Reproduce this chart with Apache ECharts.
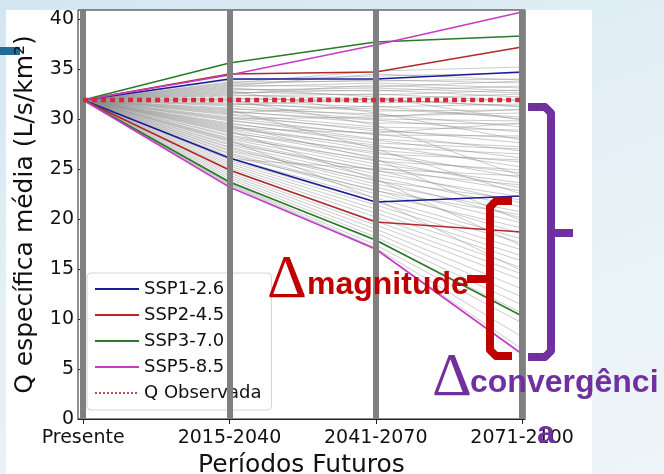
<!DOCTYPE html>
<html>
<head>
<meta charset="utf-8">
<script src="https://cdn.jsdelivr.net/npm/echarts@6/dist/echarts.min.js"></script>
<style>
  html, body { margin: 0; padding: 0; }
  body { width: 664px; height: 474px; overflow: hidden; position: relative;
    background: linear-gradient(160deg, #d3e6f0 0%, #e4f0f6 45%, #eef5f9 100%); }
  .paper { position: absolute; left: 6px; top: 10px; width: 586px; height: 464px; background: #fff; }
  .tab { position: absolute; left: 0; top: 47px; width: 20px; height: 8px; background: #1f6d99; }
  #chart { position: absolute; left: 0; top: 0; width: 664px; height: 474px; }
</style>
</head>
<body>
<div class="paper"></div>
<div class="tab"></div>
<div id="chart"></div>
<script>
const periods = ['Presente', '2015-2040', '2041-2070', '2071-2100'];
const yTicks = [0, 5, 10, 15, 20, 25, 30, 35, 40];
const qObservada = 31.9;

// envelopes per scenario (upper / lower), one value per period
const ssp126Up  = [31.9, 34.0, 34.0, 34.7];
const ssp126Low = [31.9, 26.1, 21.7, 22.3];
const ssp245Up  = [31.9, 34.5, 34.7, 37.2];
const ssp245Low = [31.9, 24.9, 19.7, 18.7];
const ssp370Up  = [31.9, 35.6, 37.7, 38.3];
const ssp370Low = [31.9, 23.7, 17.9, 10.3];
const ssp585Up  = [31.9, 34.4, 37.4, 40.7];
const ssp585Low = [31.9, 23.2, 17.0, 6.5];

// ensemble members (gray), values at 2015-2040 / 2041-2070 / 2071-2100
const gray2015 = [33.9, 33.7, 33.5, 33.4, 33.2, 33.0, 32.9, 32.7, 32.6, 32.4, 32.3, 32.1, 32.0, 31.8,
  31.6, 31.5, 31.3, 31.1, 31.0, 30.8, 30.7, 30.5, 30.4, 30.2, 30.1, 29.9, 29.8, 29.6, 29.5, 29.3,
  29.2, 29.0, 28.9, 28.7, 28.6, 28.4, 28.3, 28.1, 28.0, 27.8, 27.7, 27.5, 27.4, 27.2, 27.1, 26.9,
  26.8, 26.6, 26.5, 26.3, 26.1, 25.9, 25.7, 25.5, 25.3, 25.1, 24.8, 24.6, 24.4, 24.2, 24.0, 23.8,
  23.6, 23.5, 23.4, 32.8, 31.9, 33.1, 30.9, 29.4, 28.8, 27.9, 33.6, 33.3, 32.5, 30.0, 29.1, 31.4,
  30.6, 26.0];
const gray2041 = [34.3, 33.8, 33.9, 33.2, 33.6, 32.8, 33.1, 32.4, 32.9, 32.0, 32.5, 31.6, 31.9, 31.2,
  30.8, 31.0, 30.3, 30.0, 30.5, 29.6, 29.9, 29.2, 28.8, 29.0, 28.4, 28.0, 28.5, 27.6, 27.9, 27.2,
  26.9, 27.4, 26.5, 26.2, 26.7, 25.8, 25.5, 25.9, 25.2, 24.8, 24.5, 24.9, 24.2, 23.8, 23.5, 23.9,
  23.2, 22.8, 22.5, 22.9, 22.1, 21.7, 21.4, 21.0, 20.6, 20.2, 19.8, 19.4, 19.0, 18.6, 18.2, 17.8,
  17.4, 17.1, 16.9, 30.6, 29.4, 32.2, 27.0, 26.0, 24.0, 22.0, 34.8, 34.5, 33.4, 30.2, 28.6, 32.0,
  31.3, 25.0];
const gray2071 = [34.6, 34.0, 33.6, 33.8, 33.1, 33.3, 32.6, 32.9, 32.2, 32.5, 31.8, 32.0, 31.3, 31.5,
  30.9, 30.2, 30.6, 29.8, 29.2, 29.5, 28.7, 28.9, 28.1, 27.6, 28.3, 27.2, 26.8, 27.0, 26.1, 26.5,
  25.7, 25.2, 25.9, 24.6, 24.1, 24.9, 23.6, 23.1, 22.8, 23.4, 22.2, 21.6, 21.2, 21.9, 20.7, 20.1,
  19.6, 20.4, 19.1, 18.5, 18.0, 17.6, 16.9, 16.3, 15.8, 15.1, 14.5, 13.9, 13.0, 12.2, 11.4, 10.6,
  9.6, 8.2, 7.0, 27.9, 24.3, 29.9, 22.5, 19.8, 17.3, 14.8, 35.2, 33.9, 32.8, 31.0, 29.6, 31.2,
  30.0, 24.3];

const font = 'DejaVu Sans';
const chart = echarts.init(document.getElementById('chart'));

const graySeries = gray2015.map((v, i) => ({
  type: 'line',
  data: [[0, qObservada], [1, v], [2, gray2041[i]], [3, gray2071[i]]],
  symbol: 'none',
  silent: true,
  z: 2,
  lineStyle: { color: 'rgba(140,140,140,0.45)', width: 1 }
}));

function sspLine(name, color, values) {
  return {
    name: name,
    type: 'line',
    data: values.map((v, i) => [i, v]),
    symbol: 'none',
    silent: true,
    z: 4,
    itemStyle: { color: color },
    lineStyle: { color: color, width: 1.6 }
  };
}

const option = {
  animation: false,
  grid: {
    left: 78, right: 139, top: 10, bottom: 55,
    outerBoundsMode: 'none',
    containLabel: false,
    show: true, borderColor: '#222', borderWidth: 1, backgroundColor: '#fff'
  },
  xAxis: {
    type: 'value',
    min: -0.035,
    max: 3.02,
    name: 'Períodos Futuros',
    nameLocation: 'middle',
    nameGap: 31,
    nameTextStyle: { fontFamily: font, fontSize: 25, color: '#111' },
    axisLine: { lineStyle: { color: '#222', width: 1 } },
    axisTick: { customValues: [0, 1, 2, 3], length: 5, lineStyle: { color: '#222' } },
    axisLabel: {
      customValues: [0, 1, 2, 3],
      formatter: v => periods[Math.round(v)] || '',
      fontFamily: font, fontSize: 19, color: '#111', margin: 10
    },
    splitLine: { show: false }
  },
  yAxis: {
    type: 'value',
    min: 0,
    max: 40.9,
    name: 'Q específica média (L/s/km²)',
    nameLocation: 'middle',
    nameGap: 40,
    nameTextStyle: { fontFamily: font, fontSize: 25, color: '#111' },
    axisLine: { show: true, lineStyle: { color: '#222', width: 1 } },
    axisTick: { show: true, customValues: yTicks, length: 5, lineStyle: { color: '#222' } },
    axisLabel: {
      customValues: yTicks,
      formatter: v => (v % 5 === 0 ? String(v) : ''),
      fontFamily: font, fontSize: 19, color: '#111', margin: 4
    },
    splitLine: { show: false }
  },
  legend: {
    left: 87, top: 273,
    orient: 'vertical',
    itemWidth: 44, itemHeight: 14, itemGap: 6,
    padding: [6, 10, 7, 7],
    backgroundColor: 'rgba(255,255,255,0.8)',
    borderColor: '#d4d4d4', borderWidth: 1, borderRadius: 4,
    itemStyle: { opacity: 0 },
    textStyle: { fontFamily: font, fontSize: 18, color: '#111', lineHeight: 20 },
    data: [
      { name: 'SSP1-2.6' },
      { name: 'SSP2-4.5' },
      { name: 'SSP3-7.0' },
      { name: 'SSP5-8.5' },
      { name: 'Q Observada', lineStyle: { color: '#8b1c1c', width: 1.5, type: [2, 2] } }
    ],
    selectedMode: false
  },
  series: [
    {
      type: 'line',
      data: [],
      silent: true,
      z: 1,
      markLine: {
        silent: true,
        symbol: 'none',
        label: { show: false },
        lineStyle: { color: '#808080', width: 6, type: 'solid' },
        data: [0, 1, 2, 3].map(x => ({ xAxis: x }))
      }
    },
    ...graySeries,
    sspLine('SSP1-2.6', '#1c1c99', ssp126Up),
    sspLine('SSP1-2.6', '#1c1c99', ssp126Low),
    sspLine('SSP2-4.5', '#b02a2a', ssp245Up),
    sspLine('SSP2-4.5', '#b02a2a', ssp245Low),
    sspLine('SSP3-7.0', '#2a7a2a', ssp370Up),
    sspLine('SSP3-7.0', '#2a7a2a', ssp370Low),
    sspLine('SSP5-8.5', '#c43cc4', ssp585Up),
    sspLine('SSP5-8.5', '#c43cc4', ssp585Low),
    {
      name: 'Q Observada',
      type: 'line',
      data: [[0, qObservada], [3, qObservada]],
      symbol: 'none',
      silent: true,
      z: 5,
      itemStyle: { color: '#d42a3a' },
      lineStyle: { color: '#d42a3a', width: 4.5, type: [5, 4], cap: 'butt' }
    }
  ],
  graphic: [
    {
      type: 'polyline', z: 100,
      shape: { points: [[528, 107], [545, 107], [551, 113], [551, 351], [545, 357], [528, 357]] },
      style: { stroke: '#7030a0', lineWidth: 8, fill: null, lineJoin: 'round' }
    },
    {
      type: 'line', z: 100,
      shape: { x1: 551, y1: 233, x2: 573, y2: 233 },
      style: { stroke: '#7030a0', lineWidth: 8 }
    },
    {
      type: 'polyline', z: 100,
      shape: { points: [[512, 201], [496, 201], [490, 207], [490, 350], [496, 356], [512, 356]] },
      style: { stroke: '#c00000', lineWidth: 8, fill: null, lineJoin: 'round' }
    },
    {
      type: 'line', z: 100,
      shape: { x1: 490, y1: 279, x2: 467, y2: 279 },
      style: { stroke: '#c00000', lineWidth: 8 }
    },
    {
      type: 'text', z: 100, left: 267, top: 250,
      style: { text: 'Δ', font: '62px "Liberation Serif"', fill: '#c00000' }
    },
    {
      type: 'text', z: 100, left: 307, top: 269,
      style: { text: 'magnitude', font: 'bold 32px "Liberation Sans"', fill: '#c00000' }
    },
    {
      type: 'text', z: 100, left: 432, top: 348,
      style: { text: 'Δ', font: '62px "Liberation Serif"', fill: '#7030a0' }
    },
    {
      type: 'text', z: 100, left: 470, top: 367,
      style: { text: 'convergênci', font: 'bold 32px "Liberation Sans"', fill: '#7030a0' }
    },
    {
      type: 'text', z: 100, left: 537, top: 418,
      style: { text: 'a', font: 'bold 32px "Liberation Sans"', fill: '#7030a0' }
    }
  ]
};

chart.setOption(option);
</script>
</body>
</html>
